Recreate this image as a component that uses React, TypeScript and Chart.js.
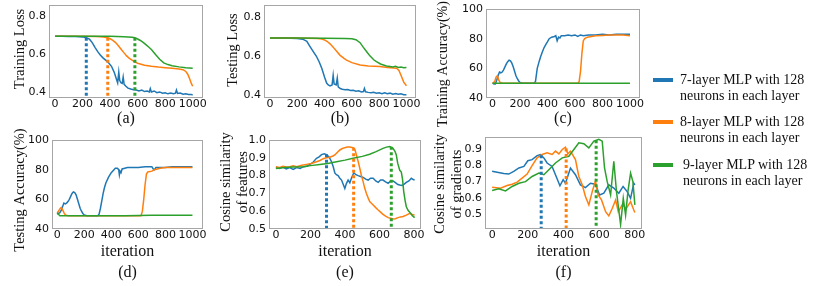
import { useEffect, useRef } from 'react';
import { Chart, registerables } from 'chart.js';
Chart.register(...registerables);

const BLUE = '#1f77b4';
const ORANGE = '#ff7f0e';
const GREEN = '#2ca02c';

// ---------- (a) Training Loss ----------
const aBlueX = [0, 50, 100, 150, 200, 227, 250, 270, 290, 310, 330, 350, 370, 390, 410, 430, 445, 455, 463, 470, 480, 488, 495, 502, 515, 530, 550, 570, 590, 610, 630, 650, 670, 685, 692, 700, 720, 740, 760, 780, 800, 820, 840, 860, 875, 882, 890, 910, 930, 950, 970, 990, 1000];
const aBlueY = [0.693, 0.693, 0.692, 0.692, 0.69, 0.685, 0.678, 0.66, 0.635, 0.612, 0.593, 0.578, 0.566, 0.552, 0.535, 0.503, 0.47, 0.448, 0.505, 0.46, 0.447, 0.445, 0.478, 0.44, 0.43, 0.42, 0.415, 0.412, 0.41, 0.405, 0.41, 0.402, 0.405, 0.4, 0.418, 0.4, 0.405, 0.396, 0.4, 0.393, 0.396, 0.39, 0.394, 0.39, 0.393, 0.41, 0.392, 0.394, 0.388, 0.39, 0.386, 0.387, 0.383];
const aOrangeX = [0, 100, 200, 300, 350, 383, 400, 420, 440, 460, 480, 500, 520, 540, 560, 580, 600, 650, 700, 750, 800, 850, 900, 930, 950, 965, 980, 990, 1000];
const aOrangeY = [0.694, 0.694, 0.693, 0.692, 0.69, 0.686, 0.68, 0.672, 0.66, 0.643, 0.625, 0.607, 0.59, 0.577, 0.567, 0.558, 0.551, 0.541, 0.535, 0.531, 0.528, 0.525, 0.521, 0.517, 0.508, 0.492, 0.465, 0.445, 0.43];
const aGreenX = [0, 200, 400, 500, 560, 580, 600, 620, 640, 660, 680, 700, 730, 760, 790, 820, 850, 900, 950, 1000];
const aGreenY = [0.694, 0.694, 0.693, 0.691, 0.688, 0.685, 0.679, 0.671, 0.661, 0.649, 0.637, 0.624, 0.597, 0.572, 0.553, 0.544, 0.538, 0.532, 0.528, 0.525];
const aMarkX = [227, 383, 580];
const aMarkTop = [0.685, 0.686, 0.685];

// ---------- (b) Testing Loss ----------
const bBlueX = [0, 100, 200, 240, 270, 290, 310, 340, 360, 380, 400, 415, 427, 440, 455, 463, 470, 485, 493, 500, 515, 530, 550, 570, 590, 610, 630, 650, 670, 685, 692, 700, 720, 740, 760, 780, 800, 820, 840, 860, 880, 900, 920, 940, 960, 980, 1000];
const bBlueY = [0.692, 0.692, 0.69, 0.686, 0.675, 0.652, 0.63, 0.598, 0.57, 0.535, 0.49, 0.46, 0.45, 0.445, 0.45, 0.5, 0.455, 0.45, 0.485, 0.44, 0.432, 0.428, 0.425, 0.427, 0.422, 0.423, 0.418, 0.42, 0.414, 0.416, 0.432, 0.415, 0.412, 0.41, 0.413, 0.408, 0.41, 0.405, 0.41, 0.405, 0.408, 0.403, 0.406, 0.402, 0.405, 0.4, 0.4];
const bOrangeX = [0, 200, 350, 380, 400, 420, 440, 463, 490, 512, 540, 561, 600, 660, 720, 805, 860, 927, 945, 963, 980, 1000];
const bOrangeY = [0.692, 0.692, 0.69, 0.687, 0.682, 0.674, 0.662, 0.645, 0.622, 0.604, 0.588, 0.578, 0.565, 0.553, 0.548, 0.545, 0.54, 0.536, 0.525, 0.495, 0.465, 0.446];
const bGreenX = [0, 200, 400, 550, 600, 630, 660, 683, 710, 732, 760, 780, 810, 853, 880, 900, 920, 940, 960, 980, 1000];
const bGreenY = [0.692, 0.692, 0.691, 0.69, 0.688, 0.683, 0.668, 0.645, 0.62, 0.6, 0.58, 0.57, 0.558, 0.548, 0.545, 0.543, 0.546, 0.54, 0.542, 0.539, 0.54];

// ---------- (c) Training Accuracy ----------
const cBlueX = [0, 10, 20, 30, 40, 50, 60, 70, 80, 90, 100, 110, 120, 130, 140, 150, 160, 170, 180, 190, 200, 220, 250, 280, 300, 312, 325, 340, 350, 362, 375, 390, 400, 412, 430, 450, 460, 470, 480, 490, 500, 525, 550, 575, 600, 620, 640, 660, 700, 750, 800, 850, 900, 950, 1000];
const cBlueY = [50, 49.5, 49.5, 52, 55, 57.5, 57, 57.5, 59, 61, 63, 64.5, 65.5, 65, 63.5, 61, 58, 55, 53, 51.5, 50.5, 50, 50, 50, 50, 51, 60, 65, 68, 71, 74, 76.5, 78, 80, 81, 81.5, 82, 78.5, 81, 80.5, 82, 82, 82.5, 82, 82.5, 81.5, 82.5, 82, 82.5, 82.5, 83, 82.5, 83, 83, 83];
const cOrangeX = [0, 15, 25, 35, 45, 55, 70, 100, 200, 300, 400, 500, 600, 620, 630, 640, 650, 660, 670, 690, 720, 750, 800, 850, 900, 950, 1000];
const cOrangeY = [50, 51, 54, 55, 52, 50.5, 50, 50, 50, 50, 50, 50, 50, 50, 51, 58, 70, 78.5, 80, 81, 81.5, 82, 82.2, 82.5, 82.5, 82.5, 82];
const cGreenX = [0, 250, 500, 750, 1000];
const cGreenY = [50, 50, 50, 50, 50];

// ---------- (d) Testing Accuracy ----------
const dBlueX = [0, 10, 20, 30, 40, 50, 60, 70, 80, 90, 100, 110, 120, 130, 140, 150, 160, 170, 180, 190, 200, 220, 250, 280, 300, 310, 320, 330, 340, 350, 360, 380, 400, 420, 430, 445, 455, 460, 465, 472, 480, 500, 520, 540, 600, 650, 700, 710, 720, 730, 760, 800, 850, 900, 950, 1000];
const dBlueY = [50, 50.5, 51, 52.5, 55, 57.5, 57, 57.5, 58.5, 60, 62, 64, 65, 64.5, 63, 60, 57, 54, 52, 50.5, 49.5, 49, 49, 49, 49, 50, 54, 59, 64, 68, 71, 75, 78, 80, 81, 81, 80, 76.5, 79, 78, 80.5, 81, 81.5, 81.5, 81.5, 82, 82, 80.5, 80, 81.5, 81.5, 81.5, 82, 82, 82, 82];
const dOrangeX = [0, 10, 20, 30, 40, 50, 60, 80, 100, 200, 300, 400, 500, 600, 620, 630, 640, 650, 660, 670, 700, 720, 740, 760, 800, 850, 900, 1000];
const dOrangeY = [51, 52, 53.5, 54.5, 53, 51, 49.5, 49, 49, 49, 49, 49, 49, 49, 49, 52, 60, 70, 77, 78.5, 79, 80, 80.5, 81, 81.5, 81.5, 81.5, 81.5];
const dGreenX = [0, 10, 20, 40, 100, 300, 500, 700, 900, 1000];
const dGreenY = [51, 50, 49, 49, 49, 49, 49, 49.2, 49.3, 49.2];

// ---------- (e) Cosine similarity of features ----------
const eBlueX = [0, 20, 40, 60, 80, 100, 120, 140, 160, 180, 197, 215, 235, 250, 264, 280, 293, 308, 322, 332, 341, 350, 360, 370, 380, 390, 399, 408, 418, 428, 437, 451, 463, 476, 490, 505, 520, 534, 548, 563, 578, 592, 606, 620, 635, 650, 664, 678, 692, 706, 717, 730, 743, 755, 770, 784, 795, 803];
const eBlueY = [0.845, 0.84, 0.848, 0.838, 0.845, 0.835, 0.845, 0.84, 0.85, 0.852, 0.863, 0.875, 0.897, 0.905, 0.918, 0.922, 0.918, 0.905, 0.878, 0.85, 0.815, 0.805, 0.8, 0.785, 0.775, 0.75, 0.728, 0.755, 0.775, 0.76, 0.785, 0.816, 0.805, 0.8, 0.795, 0.79, 0.78, 0.775, 0.785, 0.785, 0.77, 0.762, 0.775, 0.775, 0.765, 0.757, 0.77, 0.77, 0.76, 0.75, 0.747, 0.745, 0.752, 0.762, 0.77, 0.785, 0.778, 0.775];
const eOrangeX = [0, 20, 40, 60, 80, 100, 120, 150, 177, 205, 235, 255, 274, 293, 312, 330, 341, 355, 370, 385, 399, 414, 428, 440, 450, 458, 466, 476, 486, 495, 505, 514, 524, 534, 543, 553, 563, 578, 592, 606, 620, 635, 650, 664, 678, 692, 707, 722, 736, 755, 775, 790, 803];
const eOrangeY = [0.85, 0.845, 0.852, 0.848, 0.85, 0.855, 0.85, 0.858, 0.863, 0.868, 0.878, 0.885, 0.895, 0.9, 0.903, 0.91, 0.916, 0.93, 0.944, 0.952, 0.957, 0.96, 0.96, 0.958, 0.955, 0.945, 0.916, 0.88, 0.84, 0.8, 0.766, 0.73, 0.7, 0.675, 0.654, 0.645, 0.635, 0.62, 0.607, 0.595, 0.582, 0.572, 0.564, 0.56, 0.556, 0.558, 0.564, 0.568, 0.57, 0.578, 0.588, 0.582, 0.578];
const eGreenX = [0, 50, 100, 158, 200, 254, 300, 351, 400, 447, 500, 543, 580, 620, 640, 659, 678, 690, 697, 705, 717, 726, 733, 740, 748, 755, 765, 775, 790, 803];
const eGreenY = [0.84, 0.845, 0.848, 0.85, 0.856, 0.863, 0.868, 0.878, 0.887, 0.897, 0.908, 0.92, 0.935, 0.953, 0.96, 0.963, 0.953, 0.935, 0.916, 0.87, 0.83, 0.82, 0.78, 0.71, 0.66, 0.625, 0.605, 0.594, 0.575, 0.564];
const eMarkX = [293, 450, 668];
const eMarkTop = [0.92, 0.957, 0.962];

// ---------- (f) Cosine similarity of gradients ----------
const fBlueX = [0, 28, 65, 93, 121, 150, 178, 200, 224, 252, 271, 290, 308, 336, 355, 380, 398, 411, 439, 467, 495, 523, 551, 579, 602, 626, 654, 682, 710, 734, 757, 776, 794, 800];
const fBlueY = [0.764, 0.758, 0.75, 0.747, 0.764, 0.785, 0.795, 0.83, 0.837, 0.862, 0.869, 0.848, 0.816, 0.795, 0.743, 0.674, 0.712, 0.69, 0.785, 0.743, 0.68, 0.663, 0.69, 0.684, 0.617, 0.628, 0.68, 0.66, 0.628, 0.67, 0.638, 0.596, 0.69, 0.68];
const fOrangeX = [0, 47, 84, 112, 140, 168, 196, 224, 252, 280, 308, 336, 355, 374, 393, 411, 424, 439, 467, 486, 505, 523, 542, 561, 579, 594, 613, 636, 654, 673, 692, 707, 729, 752, 776, 794, 800];
const fOrangeY = [0.665, 0.659, 0.676, 0.684, 0.697, 0.722, 0.747, 0.8, 0.848, 0.869, 0.879, 0.869, 0.89, 0.873, 0.9, 0.915, 0.873, 0.89, 0.837, 0.732, 0.68, 0.607, 0.555, 0.638, 0.705, 0.617, 0.586, 0.513, 0.487, 0.533, 0.586, 0.513, 0.555, 0.533, 0.575, 0.523, 0.508];
const fGreenX = [0, 37, 75, 112, 150, 187, 224, 262, 290, 318, 355, 393, 430, 458, 486, 514, 542, 570, 598, 617, 630, 645, 664, 682, 697, 720, 735, 748, 761, 776, 789, 800];
const fGreenY = [0.645, 0.655, 0.642, 0.67, 0.69, 0.7, 0.732, 0.753, 0.743, 0.774, 0.816, 0.848, 0.858, 0.9, 0.942, 0.936, 0.91, 0.952, 0.963, 0.952, 0.785, 0.7, 0.617, 0.827, 0.638, 0.433, 0.596, 0.492, 0.638, 0.753, 0.7, 0.555];
const fMarkX = [275, 415, 583];
const fMarkTop = [0.864, 0.906, 0.957];

const legendLabels = [
  ['7-layer MLP with 128', 'neurons in each layer'],
  ['8-layer MLP with 128', 'neurons in each layer'],
  ['9-layer MLP with 128', 'neurons in each layer'],
];
const COLORS = [BLUE, ORANGE, GREEN];

type Series = { x: number[]; y: number[] };
type Panel = {
  box: [number, number, number, number];
  yTitleX: number;
  yTitleY: number;
  yTitleSize?: number;
  capY: number;
  yTitle: string[];
  xTitle: string[];
  xMin: number; xMax: number; yMin: number; yMax: number;
  xStep: number; yStep: number; yDigits: number;
  series: Series[];
  markX?: number[]; markTop?: number[];
};

const panels: Panel[] = [
  { box: [49, 5, 203, 98], yTitleX: 20, yTitleY: 49, capY: 118, yTitle: ['Training Loss'], xTitle: ['(a)'],
    xMin: -44, xMax: 1075, yMin: 0.368, yMax: 0.858, xStep: 200, yStep: 0.2, yDigits: 1,
    series: [{ x: aBlueX, y: aBlueY }, { x: aOrangeX, y: aOrangeY }, { x: aGreenX, y: aGreenY }],
    markX: aMarkX, markTop: aMarkTop },
  { box: [264, 5, 416, 98], yTitleX: 233, yTitleY: 50, capY: 118, yTitle: ['Testing Loss'], xTitle: ['(b)'],
    xMin: -44, xMax: 1070, yMin: 0.383, yMax: 0.862, xStep: 200, yStep: 0.2, yDigits: 1,
    series: [{ x: bBlueX, y: bBlueY }, { x: bOrangeX, y: bOrangeY }, { x: bGreenX, y: bGreenY }] },
  { box: [486, 9, 640, 98], yTitleX: 443, yTitleY: 64, yTitleSize: 14, capY: 118, yTitle: ['Training Accuracy(%)'], xTitle: ['(c)'],
    xMin: -48, xMax: 1073, yMin: 40, yMax: 100, xStep: 200, yStep: 20, yDigits: 0,
    series: [{ x: cBlueX, y: cBlueY }, { x: cOrangeX, y: cOrangeY }, { x: cGreenX, y: cGreenY }] },
  { box: [52, 140, 203, 229], yTitleX: 20, yTitleY: 190, capY: 272, yTitle: ['Testing Accuracy(%)'], xTitle: ['iteration', '(d)'],
    xMin: -38, xMax: 1078, yMin: 40, yMax: 100, xStep: 200, yStep: 20, yDigits: 0,
    series: [{ x: dBlueX, y: dBlueY }, { x: dOrangeX, y: dOrangeY }, { x: dGreenX, y: dGreenY }] },
  { box: [269, 140, 421, 229], yTitleX: 226, yTitleY: 182, capY: 272, yTitle: ['Cosine similarity', 'of features'], xTitle: ['iteration', '(e)'],
    xMin: -40, xMax: 840, yMin: 0.5, yMax: 1.0, xStep: 200, yStep: 0.1, yDigits: 1,
    series: [{ x: eBlueX, y: eBlueY }, { x: eOrangeX, y: eOrangeY }, { x: eGreenX, y: eGreenY }],
    markX: eMarkX, markTop: eMarkTop },
  { box: [485, 137, 642, 229], yTitleX: 440, yTitleY: 184, capY: 272, yTitle: ['Cosine similarity', 'of gradients'], xTitle: ['iteration', '(f)'],
    xMin: -40, xMax: 840, yMin: 0.405, yMax: 0.978, xStep: 200, yStep: 0.1, yDigits: 1,
    series: [{ x: fBlueX, y: fBlueY }, { x: fOrangeX, y: fOrangeY }, { x: fGreenX, y: fGreenY }],
    markX: fMarkX, markTop: fMarkTop },
];

const Y_LH = 17;
const Y_FS = 14.5;
const X_LH = 21;
const PADT = 24;
const PADR = 20;
const SERIF = '"Liberation Serif", "Times New Roman", serif';
const SANS = '"DejaVu Sans", sans-serif';

const framePlugin = {
  id: 'frame',
  afterDatasetsDraw(chart: any) {
    const { ctx, chartArea: a } = chart;
    ctx.save();
    ctx.strokeStyle = '#a6a6a6';
    ctx.lineWidth = 1;
    ctx.strokeRect(Math.round(a.left) + 0.5, Math.round(a.top) + 0.5, Math.round(a.right - a.left) - 1, Math.round(a.bottom - a.top) - 1);
    ctx.restore();
  },
};

// draws the rotated y-axis title at the given position (page coords)
const yTitlePlugin = {
  id: 'ytitle',
  afterDraw(chart: any, _args: any, opts: any) {
    const { ctx } = chart;
    ctx.save();
    ctx.translate(opts.cx - opts.ox, opts.cy - opts.oy);
    ctx.rotate(-Math.PI / 2);
    ctx.textAlign = 'center';
    ctx.textBaseline = 'middle';
    ctx.fillStyle = '#111';
    ctx.font = `${opts.size}px ${SERIF}`;
    (opts.lines as string[]).forEach((ln, i) => ctx.fillText(ln, 0, i * Y_LH));
    ctx.restore();
  },
};

function PanelChart({ p }: { p: Panel }) {
  const ref = useRef<HTMLCanvasElement>(null);
  const [l, t, r, b] = p.box;
  const left = Math.round(p.yTitleX - Y_LH / 2);
  const YW = l - left;
  const XH = Math.round(p.capY - b + X_LH / 2);
  const top = t - PADT;
  const width = r + PADR - left;
  const height = b + XH - top;

  useEffect(() => {
    const datasets: any[] = p.series.map((s, i) => ({
      data: s.x.map((x, k) => ({ x, y: s.y[k] })),
      borderColor: COLORS[i],
      borderWidth: 1.5,
      pointRadius: 0,
      tension: 0,
      fill: false,
      order: 10 - i,
    }));
    (p.markX || []).forEach((mx, i) => {
      datasets.push({
        data: [{ x: mx, y: p.markTop![i] }, { x: mx, y: p.yMin }],
        borderColor: COLORS[i],
        borderWidth: 3,
        borderDash: [3, 2.5],
        borderCapStyle: 'butt',
        pointRadius: 0,
        fill: false,
        order: 0,
      });
    });
    const chart = new Chart(ref.current!, {
      type: 'line',
      data: { datasets },
      options: {
        animation: false,
        responsive: false,
        devicePixelRatio: 1,
        layout: { padding: { left: 0, top: PADT, right: PADR, bottom: 0 } },
        plugins: {
          legend: { display: false },
          tooltip: { enabled: false },
          ytitle: { lines: p.yTitle, cx: p.yTitleX, cy: p.yTitleY, ox: left, oy: top, size: p.yTitleSize || Y_FS },
        },
        scales: {
          x: {
            type: 'linear',
            min: p.xMin,
            max: p.xMax,
            grid: { display: false, drawTicks: false },
            border: { display: false },
            ticks: {
              stepSize: p.xStep,
              includeBounds: false,
              autoSkip: false,
              maxRotation: 0,
              minRotation: 0,
              padding: 0,
              color: '#111',
              font: { family: SANS, size: 11 },
              callback: (v: any) => String(v),
            },
            title: {
              display: true,
              text: p.xTitle,
              color: '#111',
              padding: 0,
              font: { family: SERIF, size: 16, lineHeight: X_LH / 16 },
            },
            afterFit: (s: any) => { s.height = XH; },
          },
          y: {
            type: 'linear',
            min: p.yMin,
            max: p.yMax,
            grid: { display: false, drawTicks: false },
            border: { display: false },
            ticks: {
              stepSize: p.yStep,
              includeBounds: false,
              padding: 3,
              color: '#111',
              font: { family: SANS, size: 11 },
              callback: (v: any) => Number(v).toFixed(p.yDigits),
            },
            title: { display: false },
            afterFit: (s: any) => { s.width = YW; },
          },
        },
      },
      plugins: [framePlugin, yTitlePlugin],
    } as any);
    return () => chart.destroy();
  }, []);

  return (
    <canvas
      ref={ref}
      width={width}
      height={height}
      style={{ position: 'absolute', left, top, width, height }}
    />
  );
}

const legendRows = [80, 122, 165];

export default function App() {
  return (
    <div style={{ position: 'absolute', left: 0, top: 0, width: 814, height: 286, overflow: 'hidden', background: '#fff' }}>
      {panels.map((p, i) => <PanelChart key={i} p={p} />)}
      {legendLabels.map((lines, i) => (
        <div key={'lg' + i}>
          <div style={{ position: 'absolute', left: 653, top: legendRows[i] - 2, width: 20, height: 4, background: COLORS[i] }} />
          <div style={{ position: 'absolute', left: i === 2 ? 683 : 680, top: legendRows[i] - 8, fontFamily: SERIF, fontSize: 14, lineHeight: '16px', color: '#111', whiteSpace: 'nowrap' }}>
            {lines.map((ln, k) => <div key={k}>{ln}</div>)}
          </div>
        </div>
      ))}
    </div>
  );
}
